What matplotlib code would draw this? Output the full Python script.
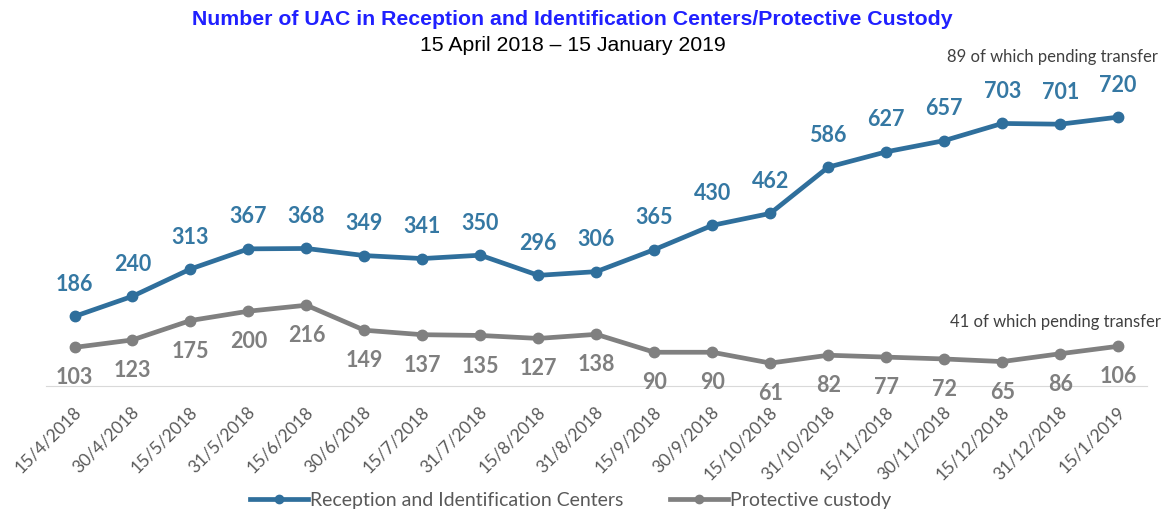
import matplotlib.pyplot as plt
import matplotlib.transforms as mtransforms
import numpy as np

dates = ["15/4/2018", "30/4/2018", "15/5/2018", "31/5/2018", "15/6/2018",
         "30/6/2018", "15/7/2018", "31/7/2018", "15/8/2018", "31/8/2018",
         "15/9/2018", "30/9/2018", "15/10/2018", "31/10/2018", "15/11/2018",
         "30/11/2018", "15/12/2018", "31/12/2018", "15/1/2019"]
ric = [186, 240, 313, 367, 368, 349, 341, 350, 296, 306, 365, 430, 462,
       586, 627, 657, 703, 701, 720]
custody = [103, 123, 175, 200, 216, 149, 137, 135, 127, 138, 90, 90, 61,
           82, 77, 72, 65, 86, 106]

BLUE = "#2f6f9c"
GRAY = "#808080"

x = np.arange(len(dates))

fig = plt.figure(figsize=(11.67, 5.2), dpi=100)
ax = fig.add_axes([0.039, 0.258, 0.944, 0.646])

ax.plot(x, ric, color=BLUE, linewidth=3.4, marker="o", markersize=7.5,
        label="Reception and Identification Centers")
ax.plot(x, custody, color=GRAY, linewidth=3.4, marker="o", markersize=7.5,
        label="Protective custody")

for xi, v in zip(x, ric):
    ax.annotate(str(v), (xi, v), xytext=(0, 23), textcoords="offset points",
                ha="center", va="center", fontsize=15.5, fontweight="bold",
                color="#3578a3", family="Lato")
for xi, v in zip(x, custody):
    ax.annotate(str(v), (xi, v), xytext=(0, -22), textcoords="offset points",
                ha="center", va="center", fontsize=15.5, fontweight="bold",
                color="#7f7f7f", family="Lato")

ax.set_xlim(-0.5, len(dates) - 0.5)
ax.set_ylim(0, 900)
ax.set_xticks(x)
ax.set_xticklabels(dates, rotation=45, ha="right", va="center",
                   rotation_mode="anchor", fontsize=12.5, color="#595959",
                   family="Lato")
ax.tick_params(axis="x", length=0, pad=17)
shift = mtransforms.ScaledTranslation(4 / 100, 0, fig.dpi_scale_trans)
for lbl in ax.get_xticklabels():
    lbl.set_transform(lbl.get_transform() + shift)
ax.set_yticks([])
for side in ["top", "left", "right"]:
    ax.spines[side].set_visible(False)
ax.spines["bottom"].set_color("#d9d9d9")

fig.text(0.902, 0.890, "89 of which pending transfer", ha="center",
         va="center", fontsize=12, color="#404040", family="Lato")
fig.text(0.904, 0.381, "41 of which pending transfer", ha="center",
         va="center", fontsize=12, color="#404040", family="Lato")

fig.text(0.4906, 0.963, "Number of UAC in Reception and Identification Centers/Protective Custody",
         ha="center", va="center", fontsize=15.3, fontweight="bold",
         color="#2020ff", family="Liberation Sans")
fig.text(0.4906, 0.913, "15 April 2018 \u2013 15 January 2019", ha="center",
         va="center", fontsize=15.3, color="black", family="Liberation Sans")

fig.legend(loc="lower center", bbox_to_anchor=(0.489, -0.012), ncol=2,
           frameon=False, prop={"family": "Lato", "size": 14},
           labelcolor="#595959", handlelength=3.0, columnspacing=2.4,
           handletextpad=0.1, markerscale=0.8)

fig.savefig("out.png", dpi=100)
